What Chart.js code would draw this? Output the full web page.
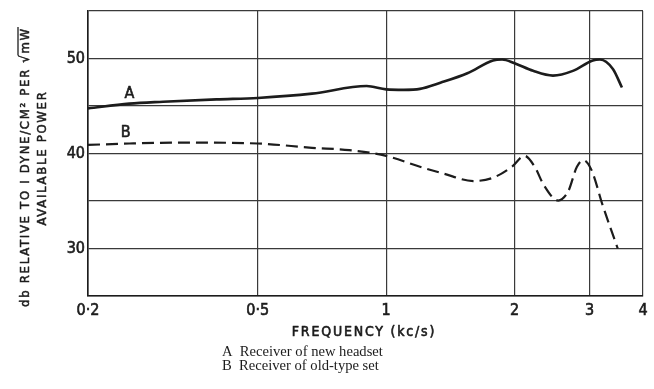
<!DOCTYPE html>
<html>
<head>
<meta charset="utf-8">
<script src="https://cdn.jsdelivr.net/npm/chart.js@4.4.1/dist/chart.umd.min.js"></script>
<style>
  html, body { margin: 0; padding: 0; background: #ffffff; }
  #wrap { width: 654px; height: 389px; position: relative; }
</style>
</head>
<body>
<div id="wrap"><canvas id="c" width="654" height="389"></canvas></div>
<script>
// Frequency response of the two receivers (kc/s vs dB)
const freqA = [0.2, 0.25, 0.3, 0.4, 0.5, 0.67, 0.9, 1.0, 1.1, 1.2, 1.34, 1.55, 1.78, 1.87, 2.0, 2.21, 2.46, 2.74, 3.05, 3.17, 3.4, 3.57];
const dbA   = [44.75, 45.25, 45.45, 45.7, 45.85, 46.3, 47.1, 46.75, 46.7, 46.8, 47.45, 48.45, 49.8, 49.9, 49.5, 48.7, 48.2, 48.7, 49.8, 49.9, 48.9, 46.95];

const freqB = [0.2, 0.25, 0.33, 0.5, 0.67, 0.82, 1.0, 1.2, 1.36, 1.6, 1.78, 1.97, 2.11, 2.23, 2.34, 2.53, 2.67, 2.8, 2.9, 3.03, 3.22, 3.49];
const dbB   = [40.9, 41.05, 41.15, 41.05, 40.6, 40.35, 39.75, 38.6, 37.9, 37.1, 37.45, 38.6, 39.75, 38.6, 36.7, 35.05, 36.0, 38.6, 39.3, 38.25, 34.5, 30.0];

const xTicks = [0.2, 0.5, 1, 2, 3, 4];
const yLabelled = [30, 40, 50];

const seriesNames = ['A', 'B'];
const captionLines = ['A  Receiver of new headset', 'B  Receiver of old-type set'];
const xTitle = 'FREQUENCY (kc/s)';
const yTitle1 = 'db RELATIVE TO I DYNE/CM\u00B2 PER \u221A';
const yTitle1Root = 'mW';
const yTitle2 = 'AVAILABLE POWER';

const INK = '#1c1c1c';
const LETTER_FONT = '"DejaVu Sans Condensed", "DejaVu Sans", sans-serif';

const toPoints = (xs, ys) => xs.map((x, i) => ({ x: x, y: ys[i] }));

// Lettering with a thin outline so the strokes look like drawn ink
function inkText(ctx, text, x, y) {
  ctx.fillText(text, x, y);
  ctx.strokeText(text, x, y);
}

// Titles, captions and curve letters drawn on top of the chart
const annotations = {
  id: 'annotations',
  afterDraw(chart) {
    const ctx = chart.ctx;
    const xs = chart.scales.x, ys = chart.scales.y;
    ctx.save();
    ctx.fillStyle = INK;
    ctx.strokeStyle = INK;
    ctx.lineWidth = 0.6;
    ctx.lineJoin = 'round';

    // curve letters
    ctx.font = '16px ' + LETTER_FONT;
    ctx.textAlign = 'center';
    ctx.textBaseline = 'middle';
    inkText(ctx, seriesNames[0], xs.getPixelForValue(0.25), ys.getPixelForValue(46.3));
    inkText(ctx, seriesNames[1], xs.getPixelForValue(0.245), ys.getPixelForValue(42.2));

    // x-axis title
    ctx.font = '14px ' + LETTER_FONT;
    ctx.letterSpacing = '1.8px';
    inkText(ctx, xTitle, 364, 332);

    // y-axis title (two rotated lines)
    ctx.save();
    ctx.translate(26, 167);
    ctx.rotate(-Math.PI / 2);
    ctx.font = '13px ' + LETTER_FONT;
    ctx.letterSpacing = '1.7px';
    const w1 = ctx.measureText(yTitle1).width;
    const w2 = ctx.measureText(yTitle1Root).width;
    const start = -(w1 + w2) / 2;
    ctx.textAlign = 'left';
    ctx.lineWidth = 0.5;
    inkText(ctx, yTitle1, start, 0);
    inkText(ctx, yTitle1Root, start + w1, 0);
    ctx.lineWidth = 1.3;
    ctx.beginPath();
    ctx.moveTo(start + w1 - 2, -8);
    ctx.lineTo(start + w1 + w2, -8);
    ctx.stroke();
    ctx.lineWidth = 0.5;
    ctx.textAlign = 'center';
    inkText(ctx, yTitle2, 9, 17);
    ctx.restore();

    // caption
    ctx.letterSpacing = '0px';
    ctx.font = '14.6px "Liberation Serif", "Times New Roman", serif';
    ctx.textAlign = 'left';
    ctx.fillText(captionLines[0], 222, 352);
    ctx.fillText(captionLines[1], 222, 366);
    ctx.restore();
  }
};

const tickStyle = {
  color: INK,
  textStrokeColor: INK,
  textStrokeWidth: 0.6,
  font: { family: LETTER_FONT, size: 16 }
};

new Chart(document.getElementById('c'), {
  type: 'line',
  data: {
    datasets: [
      {
        label: seriesNames[0],
        data: toPoints(freqA, dbA),
        borderColor: INK,
        borderWidth: 2.6,
        pointRadius: 0,
        cubicInterpolationMode: 'monotone',
        fill: false
      },
      {
        label: seriesNames[1],
        data: toPoints(freqB, dbB),
        borderColor: INK,
        borderWidth: 2.2,
        borderDash: [12, 6],
        pointRadius: 0,
        cubicInterpolationMode: 'monotone',
        fill: false
      }
    ]
  },
  options: {
    responsive: false,
    animation: false,
    devicePixelRatio: 1,
    layout: { padding: { top: 11, right: 11, left: 0, bottom: 0 } },
    plugins: { legend: { display: false }, tooltip: { enabled: false } },
    scales: {
      x: {
        type: 'logarithmic',
        min: 0.2,
        max: 4,
        afterBuildTicks(scale) { scale.ticks = xTicks.map(v => ({ value: v })); },
        afterFit(scale) { scale.height = 93; scale.paddingLeft = 0; scale.paddingRight = 0; },
        grid: { color: '#3a3a3a', lineWidth: 1.2, drawTicks: false },
        border: { display: true, color: INK, width: 1.6 },
        ticks: Object.assign({
          autoSkip: false,
          maxRotation: 0,
          padding: 5,
          callback(v) { return String(v).replace('.', '\u00B7'); }
        }, tickStyle)
      },
      y: {
        min: 25,
        max: 55,
        afterFit(scale) { scale.width = 88; scale.paddingTop = 0; scale.paddingBottom = 0; },
        grid: { color: '#3a3a3a', lineWidth: 1.2, drawTicks: false },
        border: { display: true, color: INK, width: 1.6 },
        ticks: Object.assign({
          stepSize: 5,
          padding: 3,
          callback(v) { return yLabelled.includes(v) ? String(v) : ''; }
        }, tickStyle)
      }
    }
  },
  plugins: [annotations]
});
</script>
</body>
</html>
